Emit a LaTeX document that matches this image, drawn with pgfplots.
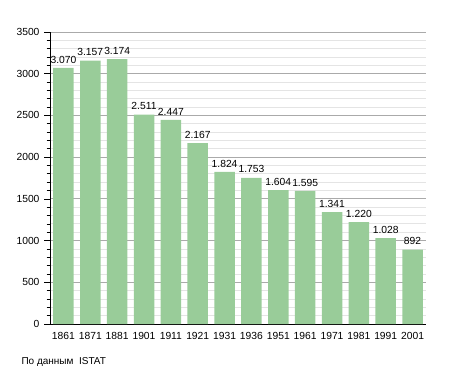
\documentclass[border=0pt]{standalone}
\usepackage{fontspec}
\setmainfont{Liberation Sans}
\usepackage{pgfplots}
\pgfplotsset{compat=1.18}
\definecolor{barcol}{RGB}{153,204,153}
\definecolor{majgrid}{RGB}{170,170,170}
\definecolor{mingrid}{RGB}{228,228,228}
\begin{document}
\begin{tikzpicture}
\useasboundingbox (0,0) rectangle (455pt,373pt);
\begin{axis}[
  at={(50pt,49pt)}, anchor=south west,
  scale only axis, width=376pt, height=292pt,
  xmin=-0.5, xmax=13.5, ymin=0, ymax=3500,
  axis x line*=bottom, axis y line*=left,
  axis line style={-, black, line width=0.9pt},
  xtick={0,...,13},
  xticklabels={1861,1871,1881,1901,1911,1921,1931,1936,1951,1961,1971,1981,1991,2001},
  x tick style={draw=none},
  ytick={0,500,...,3500},
  minor y tick num=4,
  tick align=outside,
  major tick length=6pt, minor tick length=3.5pt,
  y tick style={black, line width=0.7pt},
  ymajorgrids, yminorgrids,
  major grid style={majgrid, line width=0.8pt},
  minor grid style={mingrid, line width=0.8pt},
  ticklabel style={font=\fontsize{10.3}{12}\selectfont},
  /pgf/number format/assume math mode=true,
  yticklabel style={/pgf/number format/1000 sep={}, xshift=-1pt},
  xticklabel style={yshift=1pt},
  nodes near coords,
  point meta=explicit symbolic,
  every node near coord/.append style={font=\fontsize{10.3}{12}\selectfont, inner sep=1pt, yshift=3.5pt},
]
\addplot[ybar, bar width=20.5pt, fill=barcol, draw=none]
  coordinates {
  (0,3070) [3.070]
  (1,3157) [3.157]
  (2,3174) [3.174]
  (3,2511) [2.511]
  (4,2447) [2.447]
  (5,2167) [2.167]
  (6,1824) [1.824]
  (7,1753) [1.753]
  (8,1604) [1.604]
  (9,1595) [1.595]
  (10,1341) [1.341]
  (11,1220) [1.220]
  (12,1028) [1.028]
  (13,892) [892]
  };
\end{axis}
\node[anchor=west, font=\fontsize{10}{12}\selectfont] at (18pt,11pt) {По данным\ \ ISTAT};
\end{tikzpicture}
\end{document}
